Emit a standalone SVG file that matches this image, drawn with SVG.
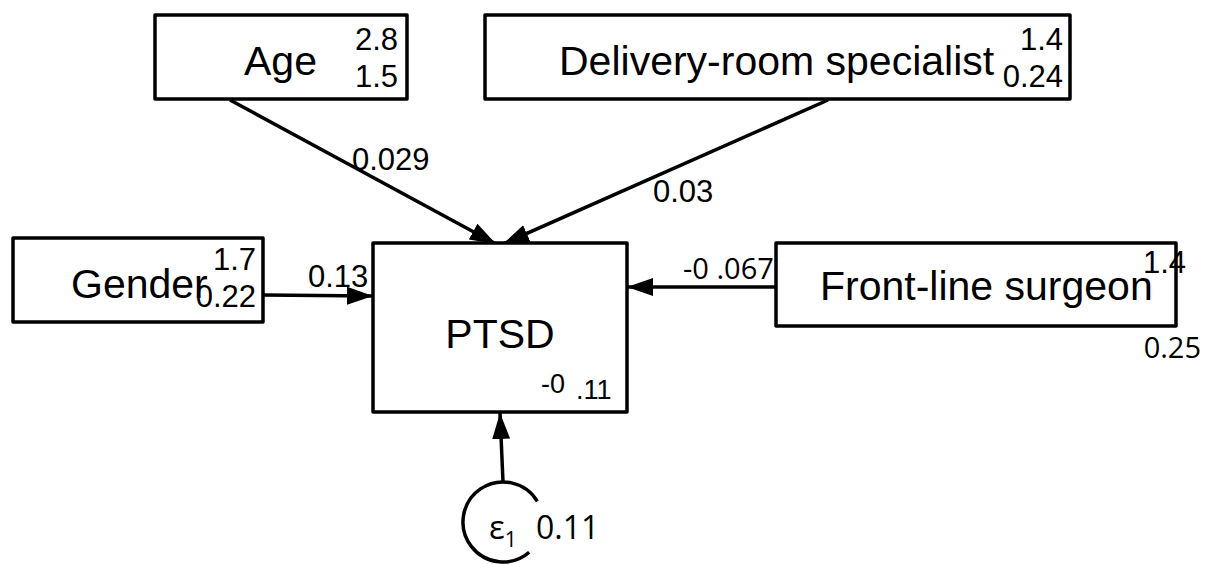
<svg xmlns="http://www.w3.org/2000/svg" width="1207" height="564" viewBox="0 0 1207 564">
  <style>
    .box { fill: #ffffff; stroke: #000000; stroke-width: 3.5; stroke-linejoin: round; }
    .label { font-family: "Liberation Sans", Arial, sans-serif; font-size: 41px; fill: #000000; }
    .num { font-family: "Liberation Sans", Arial, sans-serif; font-size: 31px; fill: #000000; }
    .alt { font-family: "Open Sans", "Liberation Sans", sans-serif; font-size: 29px; fill: #000000; }
    .edge { stroke: #000000; stroke-width: 3.5; fill: none; marker-end: url(#head); }
    .r { text-anchor: end; }
    .c { text-anchor: middle; }
  </style>
  <defs>
    <marker id="head" markerUnits="userSpaceOnUse" markerWidth="28" markerHeight="20" refX="26" refY="9" orient="auto">
      <path d="M0,0 L26,9 L0,18 Z" fill="#000000"/>
    </marker>
  </defs>
  <rect width="1207" height="564" fill="#ffffff"/>

  <!-- connectors -->
  <g id="connectors">
    <line class="edge" x1="230" y1="100" x2="496" y2="244"/>
    <line class="edge" x1="828" y1="100" x2="503" y2="244"/>
    <line class="edge" x1="263" y1="295" x2="373" y2="296"/>
    <line class="edge" x1="776" y1="287" x2="627" y2="287"/>
    <line class="edge" x1="503" y1="482" x2="500" y2="413"/>
    <text class="num" x="352" y="170">0.029</text>
    <text class="num" x="653" y="202">0.03</text>
    <text class="num" x="308" y="287">0.13</text>
    <text class="alt" x="683" y="279">-0 .067</text>
  </g>

  <!-- exogenous variables -->
  <g id="age">
    <rect class="box" x="155" y="15" width="252" height="84"/>
    <text class="label" x="244" y="75">Age</text>
    <text class="num r" x="398" y="50">2.8</text>
    <text class="num r" x="398" y="87">1.5</text>
  </g>
  <g id="delivery">
    <rect class="box" x="485" y="15" width="585" height="84"/>
    <text class="label" x="559" y="75">Delivery-room specialist</text>
    <text class="num r" x="1063" y="50">1.4</text>
    <text class="num r" x="1063" y="87">0.24</text>
  </g>
  <g id="gender">
    <rect class="box" x="13" y="238" width="250" height="84"/>
    <text class="label" x="71" y="298">Gender</text>
    <text class="num r" x="256" y="270">1.7</text>
    <text class="num r" x="256" y="307">0.22</text>
  </g>
  <g id="frontline">
    <rect class="box" x="776" y="243" width="400" height="83"/>
    <text class="label" x="820" y="300">Front-line surgeon</text>
    <text class="num r" x="1186" y="273">1.4</text>
    <text class="alt r" x="1201" y="358">0.25</text>
  </g>

  <!-- endogenous variable -->
  <g id="ptsd">
    <rect class="box" x="373" y="243" width="254" height="169"/>
    <text class="label c" x="500" y="348">PTSD</text>
    <text class="num" x="541" y="393" style="font-size:27px">-0</text>
    <text class="num" x="576" y="399" style="font-size:27px">.11</text>
  </g>

  <!-- error term -->
  <g id="error">
    <path d="M537.3,501.4 A40,40 0 1 0 529.2,552.2" fill="none" stroke="#000000" stroke-width="3.5"/>
    <text class="alt" x="489" y="539" style="font-size:33px">ε<tspan font-size="21" dy="8">1</tspan></text>
    <text class="alt" x="536" y="539" style="font-size:32px">0.11</text>
  </g>
</svg>
